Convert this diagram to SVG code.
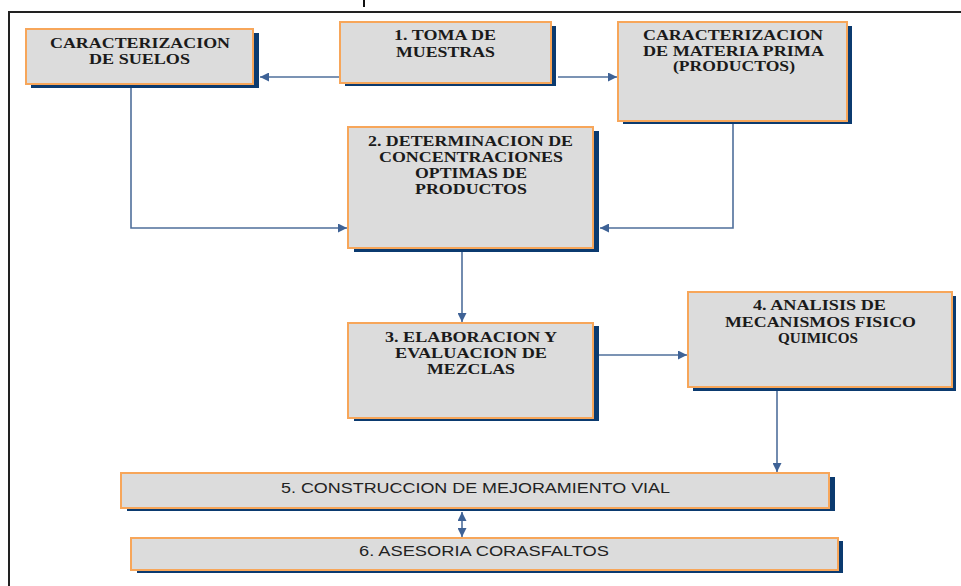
<svg xmlns="http://www.w3.org/2000/svg" width="961" height="586" viewBox="0 0 961 586">
<style>
.box{fill:#dcdcdc;stroke:#f7a65a;stroke-width:2}
.sh{fill:#0b3a6f}
.t{font-family:"Liberation Serif","Times New Roman",serif;font-weight:bold;font-size:14px;fill:#1a1a1a;text-anchor:middle}
.s{font-family:"Liberation Sans",Arial,sans-serif;font-size:14px;fill:#222;text-anchor:middle}
.c{fill:none;stroke:#4f6f9b;stroke-width:1.6}
</style>
<defs>
<marker id="ar" markerUnits="userSpaceOnUse" markerWidth="9" markerHeight="9" refX="9" refY="4.5" orient="auto-start-reverse">
<path d="M0,0 L9,4.5 L0,9 z" fill="#3e6296"/>
</marker>
</defs>
<rect width="961" height="586" fill="#fff"/>
<g id="frame">
<path d="M9,586 V12 H961" fill="none" stroke="#222" stroke-width="2"/>
<line x1="364" y1="0" x2="364" y2="7" stroke="#111" stroke-width="2"/>
</g>
<g id="connectors">
<path class="c" d="M340,77 H260" marker-end="url(#ar)"/>
<path class="c" d="M558,77 H617" marker-end="url(#ar)"/>
<path class="c" d="M131,85 V228 H347" marker-end="url(#ar)"/>
<path class="c" d="M733,124 V228 H600" marker-end="url(#ar)"/>
<path class="c" d="M462,252 V322" marker-end="url(#ar)"/>
<path class="c" d="M594,355 H687" marker-end="url(#ar)"/>
<path class="c" d="M777,391 V472" marker-end="url(#ar)"/>
<path class="c" d="M462,512 V537" marker-start="url(#ar)" marker-end="url(#ar)"/>
</g>
<g id="n_suelos">
<rect class="sh" x="31" y="33" width="228" height="55"/>
<rect class="box" x="26" y="29" width="227" height="55"/>
<text class="t" x="140" y="48" textLength="180" lengthAdjust="spacingAndGlyphs">CARACTERIZACION</text>
<text class="t" x="139.5" y="64" textLength="101" lengthAdjust="spacingAndGlyphs">DE SUELOS</text>
</g>
<g id="n1">
<rect class="sh" x="345" y="26" width="211" height="60"/>
<rect class="box" x="340" y="22" width="211" height="61"/>
<text class="t" x="445" y="40" textLength="102" lengthAdjust="spacingAndGlyphs">1. TOMA DE</text>
<text class="t" x="445.5" y="56.5" textLength="99" lengthAdjust="spacingAndGlyphs">MUESTRAS</text>
</g>
<g id="n_materia">
<rect class="sh" x="623" y="26" width="229" height="98"/>
<rect class="box" x="618" y="22" width="229" height="99"/>
<text class="t" x="733" y="40" textLength="180" lengthAdjust="spacingAndGlyphs">CARACTERIZACION</text>
<text class="t" x="733.5" y="56" textLength="181" lengthAdjust="spacingAndGlyphs">DE MATERIA PRIMA</text>
<text class="t" x="734" y="71" textLength="122" lengthAdjust="spacingAndGlyphs">(PRODUCTOS)</text>
</g>
<g id="n2">
<rect class="sh" x="354" y="131" width="245" height="121"/>
<rect class="box" x="348" y="127" width="245" height="121"/>
<text class="t" x="470.5" y="146" textLength="205" lengthAdjust="spacingAndGlyphs">2. DETERMINACION DE</text>
<text class="t" x="471" y="162" textLength="184" lengthAdjust="spacingAndGlyphs">CONCENTRACIONES</text>
<text class="t" x="471" y="178" textLength="112" lengthAdjust="spacingAndGlyphs">OPTIMAS DE</text>
<text class="t" x="471" y="194" textLength="112" lengthAdjust="spacingAndGlyphs">PRODUCTOS</text>
</g>
<g id="n3">
<rect class="sh" x="354" y="326" width="245" height="95"/>
<rect class="box" x="348" y="323" width="245" height="95"/>
<text class="t" x="471" y="342" textLength="172" lengthAdjust="spacingAndGlyphs">3. ELABORACION Y</text>
<text class="t" x="471" y="358" textLength="152" lengthAdjust="spacingAndGlyphs">EVALUACION DE</text>
<text class="t" x="471" y="374" textLength="88" lengthAdjust="spacingAndGlyphs">MEZCLAS</text>
</g>
<g id="n4">
<rect class="sh" x="693" y="296" width="263" height="95"/>
<rect class="box" x="688" y="292" width="264" height="95"/>
<text class="t" x="819.5" y="310" textLength="133" lengthAdjust="spacingAndGlyphs">4. ANALISIS DE</text>
<text class="t" x="820.5" y="327" textLength="191" lengthAdjust="spacingAndGlyphs">MECANISMOS FISICO</text>
<text class="t" x="818" y="343" textLength="80" lengthAdjust="spacingAndGlyphs">QUIMICOS</text>
</g>
<g id="n5">
<rect class="sh" x="127" y="477" width="708" height="34"/>
<rect class="box" x="121" y="473" width="708" height="35"/>
<text class="s" x="475.5" y="493" textLength="389" lengthAdjust="spacingAndGlyphs">5. CONSTRUCCION DE MEJORAMIENTO VIAL</text>
</g>
<g id="n6">
<rect class="sh" x="137" y="541" width="706" height="32"/>
<rect class="box" x="131" y="538" width="707" height="32"/>
<text class="s" x="484" y="556" textLength="250" lengthAdjust="spacingAndGlyphs">6. ASESORIA CORASFALTOS</text>
</g>
</svg>
